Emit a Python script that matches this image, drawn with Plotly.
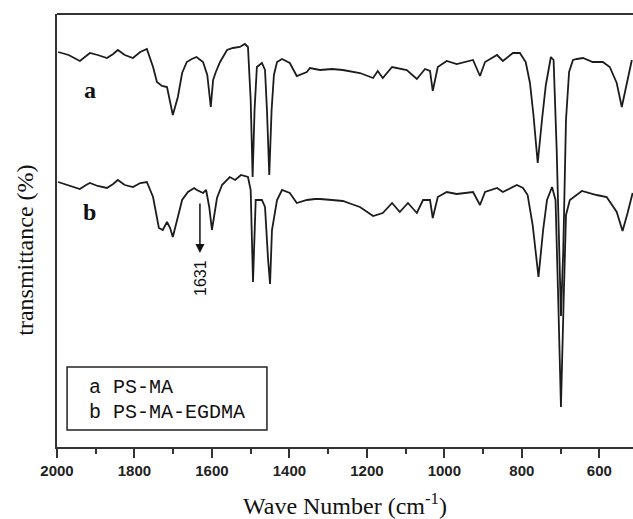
import plotly.graph_objects as go

# Wavenumber (cm^-1) and transmittance (arbitrary units, curves offset)
wn_a = [1997, 1970, 1941, 1925, 1915, 1895, 1871, 1855, 1843, 1825, 1804, 1785, 1768,
        1752, 1742, 1729, 1716, 1701, 1688, 1677, 1665, 1652, 1640, 1623, 1612, 1603,
        1597, 1590, 1579, 1561, 1546, 1528, 1515, 1507, 1500, 1495, 1490, 1484, 1471,
        1463, 1458, 1452, 1446, 1440, 1432, 1419, 1399, 1381, 1355, 1347, 1321, 1290,
        1262, 1218, 1184, 1172, 1159, 1135, 1097, 1071, 1050, 1037, 1030, 1017, 994,
        968, 926, 908, 895, 864, 849, 823, 805, 790, 779, 770, 759, 748, 738, 725,
        718, 710, 704, 699, 693, 686, 678, 668, 658, 642, 617, 591, 573, 555, 542,
        529, 516]
t_a = [395, 392, 386, 391, 394, 392, 389, 393, 397, 392, 389, 395, 398,
       380, 365, 361, 360, 332, 350, 374, 385, 388, 390, 385, 372, 340,
       367, 375, 385, 397, 399, 400, 403, 400, 347, 270, 337, 380, 384,
       377, 337, 272, 337, 372, 385, 388, 384, 371, 375, 379, 377, 378,
       377, 374, 369, 376, 369, 380, 377, 368, 378, 376, 356, 380, 386,
       383, 387, 371, 385, 392, 386, 394, 394, 385, 364, 332, 284, 327, 362, 390,
       387, 297, 197, 131, 197, 327, 375, 387, 388, 389, 385, 385, 380, 364, 340,
       364, 387]

wn_b = [1997, 1970, 1941, 1925, 1915, 1895, 1871, 1855, 1843, 1825, 1804, 1785, 1768,
        1752, 1737, 1727, 1716, 1708, 1701, 1688, 1677, 1662, 1646, 1639, 1623, 1615,
        1607, 1600, 1587, 1574, 1554, 1540, 1525, 1507, 1500, 1494, 1487, 1471, 1463,
        1455, 1450, 1445, 1432, 1419, 1399, 1381, 1355, 1334, 1321, 1290, 1262, 1240,
        1218, 1184, 1159, 1135, 1115, 1094, 1071, 1055, 1037, 1030, 1017, 994, 968,
        926, 908, 895, 864, 849, 813, 797, 785, 772, 757, 745, 735, 722, 713, 706,
        699, 692, 686, 676, 645, 607, 581, 555, 540, 527, 514]
t_b = [265, 262, 258, 262, 264, 261, 259, 263, 267, 262, 260, 264, 265,
       250, 219, 217, 225, 219, 210, 230, 247, 255, 259, 257, 254, 257,
       240, 217, 249, 262, 270, 267, 272, 270, 257, 165, 247, 247, 240,
       187, 163, 217, 247, 257, 254, 244, 247, 248, 248, 247, 246, 243,
       240, 231, 234, 244, 235, 244, 234, 247, 247, 229, 250, 255, 253,
       255, 242, 255, 259, 255, 262, 259, 252, 222, 170, 217, 247, 260, 247, 147,
       40, 147, 232, 247, 256, 252, 250, 235, 216, 234, 254]

x_ticks = [2000, 1800, 1600, 1400, 1200, 1000, 800, 600]
curve_labels = ["a", "b"]
legend_lines = ["a PS-MA", "b PS-MA-EGDMA"]
marked_peak = 1631

line_col = "#1c1c1c"
fig = go.Figure()
fig.add_trace(go.Scatter(x=wn_a, y=t_a, mode="lines", name="PS-MA",
                         line=dict(color=line_col, width=1.8)))
fig.add_trace(go.Scatter(x=wn_b, y=t_b, mode="lines", name="PS-MA-EGDMA",
                         line=dict(color=line_col, width=1.8)))

fig.update_layout(
    width=633, height=519,
    margin=dict(l=57, r=0, t=14, b=72),
    paper_bgcolor="white", plot_bgcolor="white",
    showlegend=False,
    xaxis=dict(
        range=[2000, 513], tickmode="array", tickvals=x_ticks,
        ticktext=[str(v) for v in x_ticks],
        showline=True, linecolor="#333", linewidth=2, showgrid=False, zeroline=False,
        ticks="outside", ticklen=9, tickwidth=2, tickcolor="#333",
        tickfont=dict(family="Liberation Sans", size=15, color="#222", weight="bold"),
        minor=dict(dtick=100, tick0=2000, ticks="outside", ticklen=5, tickwidth=2, tickcolor="#333"),
        title=dict(text="Wave Number (cm<sup>-1</sup>)", standoff=21,
                   font=dict(family="Liberation Serif", size=24, color="#111")),
    ),
    yaxis=dict(
        range=[0, 433], showline=True, linecolor="#333", linewidth=2,
        showgrid=False, zeroline=False, showticklabels=False, ticks="",
    ),
)

# y-axis title, placed like the reference (slightly below the plot centre)
fig.add_annotation(xref="paper", yref="paper", x=-0.056, y=0.455, text="transmittance (%)",
                   textangle=-90, showarrow=False, xanchor="center", yanchor="middle",
                   font=dict(family="Liberation Serif", size=24, color="#111"))

# top frame line
fig.add_shape(type="line", xref="paper", yref="paper", x0=0, x1=1, y0=1, y1=1,
              line=dict(color="#333", width=2))

# curve labels
fig.add_annotation(x=1915, y=357, text=curve_labels[0], showarrow=False,
                   font=dict(family="Liberation Serif", size=24, color="#111", weight="bold"))
fig.add_annotation(x=1915, y=235, text=curve_labels[1], showarrow=False,
                   font=dict(family="Liberation Serif", size=24, color="#111", weight="bold"))

# arrow to 1631
fig.add_annotation(x=marked_peak, y=194, ax=marked_peak, ay=245, axref="x", ayref="y",
                   text="", showarrow=True, arrowhead=2, arrowsize=1.2, arrowwidth=1.5,
                   arrowcolor="#111")
fig.add_annotation(x=marked_peak, y=169, text=str(marked_peak), textangle=-90,
                   showarrow=False, font=dict(family="Liberation Sans", size=16, color="#111"))

# legend box
fig.add_shape(type="rect", x0=1974, x1=1458, y0=17, y1=80,
              line=dict(color="#222", width=1.5), fillcolor="white")
fig.add_annotation(x=1923, y=60, text=legend_lines[0], showarrow=False, xanchor="left",
                   font=dict(family="Liberation Mono", size=20, color="#111"))
fig.add_annotation(x=1923, y=35, text=legend_lines[1], showarrow=False, xanchor="left",
                   font=dict(family="Liberation Mono", size=20, color="#111"))

fig.write_html("out.html", config={"displayModeBar": False},
               post_script="document.body.style.margin='0';")
